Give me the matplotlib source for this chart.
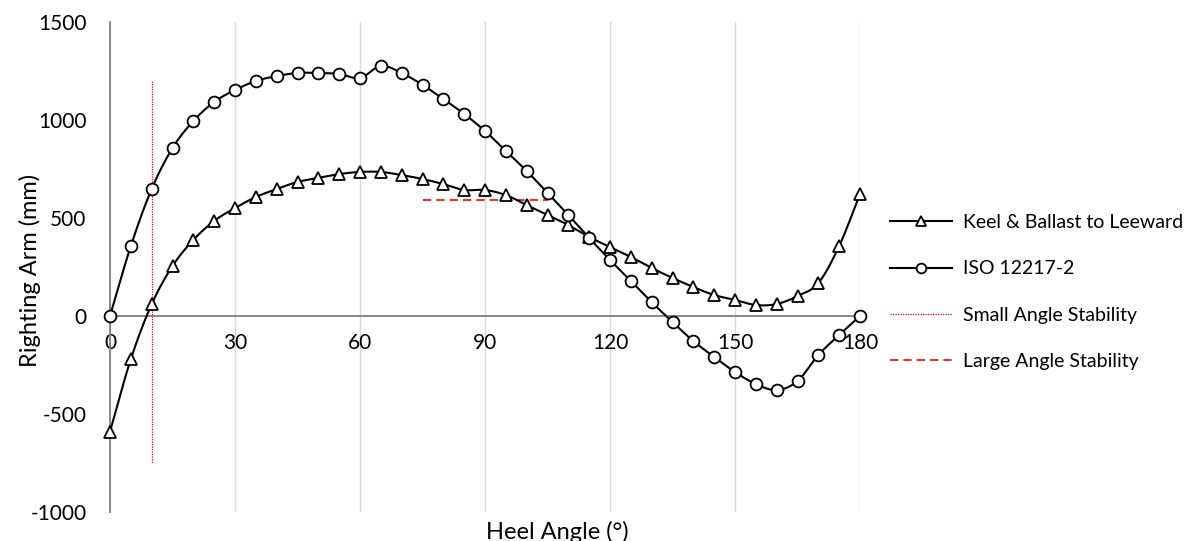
import numpy as np
import matplotlib
matplotlib.use("Agg")
import matplotlib.pyplot as plt

plt.rcParams['font.family'] = ['Lato', 'DejaVu Sans']
plt.rcParams['axes.unicode_minus'] = False

heel = list(range(0, 181, 5))
keel_leeward = [-590, -220, 60, 255, 388, 485, 551, 607, 648, 684, 704, 724, 735,
                735, 719, 699, 673, 643, 643, 617, 566, 515, 464, 403, 352, 301,
                245, 194, 148, 107, 82, 56, 61, 102, 168, 357, 622]
iso_12217 = [0, 357, 648, 857, 995, 1092, 1153, 1199, 1224, 1240, 1240, 1235, 1214,
             1276, 1240, 1179, 1107, 1031, 944, 842, 740, 628, 515, 398, 286, 179,
             71, -31, -128, -209, -286, -347, -378, -332, -199, -97, 0]

small_angle_x = 10
small_angle_y = [1200, -750]
large_angle_x = [75, 105]
large_angle_y = 590


def smooth(x, y, steps=16):
    # Catmull-Rom curve through the points, like a spreadsheet "smoothed line"
    x = np.asarray(x, float)
    y = np.asarray(y, float)
    px = np.concatenate([[2 * x[0] - x[1]], x, [2 * x[-1] - x[-2]]])
    py = np.concatenate([[2 * y[0] - y[1]], y, [2 * y[-1] - y[-2]]])
    t = np.linspace(0, 1, steps, endpoint=False)
    xs, ys = [], []
    for i in range(1, len(px) - 2):
        for p, out in ((px, xs), (py, ys)):
            p0, p1, p2, p3 = p[i - 1], p[i], p[i + 1], p[i + 2]
            out.append(0.5 * (2 * p1 + (-p0 + p2) * t
                              + (2 * p0 - 5 * p1 + 4 * p2 - p3) * t ** 2
                              + (-p0 + 3 * p1 - 3 * p2 + p3) * t ** 3))
    xs.append([x[-1]])
    ys.append([y[-1]])
    return np.concatenate(xs), np.concatenate(ys)


fig = plt.figure(figsize=(11.92, 5.41), dpi=100)
ax = fig.add_axes([110 / 1192, 29 / 541, 750 / 1192, 490 / 541])

for ys, mk, ms in ((keel_leeward, '^', 8), (iso_12217, 'o', 8.5)):
    sx, sy = smooth(heel, ys)
    ax.plot(sx, sy, color='black', lw=1.5, zorder=3, clip_on=False)
    ax.plot(heel, ys, ls='none', marker=mk, ms=ms, mfc='white', mec='black',
            mew=1.3, zorder=4, clip_on=False)

ax.plot([small_angle_x, small_angle_x], small_angle_y, color='red', lw=0.9,
        ls=(0, (1, 1)), zorder=2)
ax.plot(large_angle_x, [large_angle_y, large_angle_y], color='red', lw=1.2,
        ls=(0, (5, 3)), zorder=2)

ax.set_xlim(0, 180)
ax.set_ylim(-1000, 1500)
ax.set_xticks(range(0, 181, 30))
ax.set_yticks(range(-1000, 1501, 500))
ax.grid(axis='x', color='#d9d9d9', lw=1)
ax.set_axisbelow(True)
for s in ('top', 'right'):
    ax.spines[s].set_visible(False)
ax.spines['bottom'].set_position(('data', 0))
ax.spines['bottom'].set_color('#808080')
ax.spines['left'].set_color('#808080')
ax.spines['bottom'].set_linewidth(1.3)
ax.spines['left'].set_linewidth(1.3)
ax.tick_params(length=0, labelsize=15, colors='#000000')
ax.tick_params(axis='x', pad=12)
ax.tick_params(axis='y', pad=17)

fig.text(30 / 1192, 0.5, 'Righting Arm (mm)', rotation=90, ha='center',
         va='center', fontsize=17)
fig.text(557 / 1192, 9 / 541, 'Heel Angle (°)', ha='center', va='center',
         fontsize=17)

h1 = plt.Line2D([], [], color='black', lw=1.5, marker='^', ms=7, mfc='white',
                mec='black', mew=1.3)
h2 = plt.Line2D([], [], color='black', lw=1.5, marker='o', ms=7, mfc='white',
                mec='black', mew=1.3)
h3 = plt.Line2D([], [], color='red', lw=0.9, ls=(0, (1, 1)))
h4 = plt.Line2D([], [], color='red', lw=1.2, ls=(0, (5, 3)))
fig.legend([h1, h2, h3, h4],
           ['Keel & Ballast to Leeward', 'ISO 12217-2', 'Small Angle Stability',
            'Large Angle Stability'],
           loc='center left', bbox_to_anchor=(872 / 1192, 1 - 292 / 541),
           frameon=False, fontsize=14, handlelength=3.2, labelspacing=1.5,
           handletextpad=0.6)

fig.savefig('out.png', dpi=100)
